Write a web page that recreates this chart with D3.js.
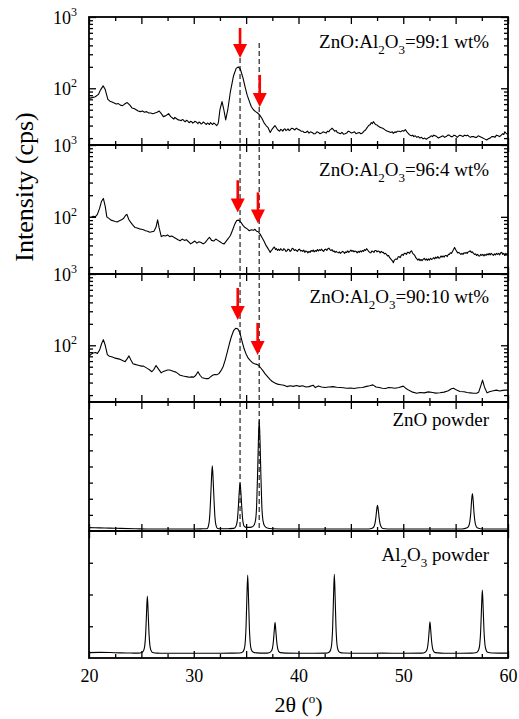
<!DOCTYPE html>
<html>
<head>
<meta charset="utf-8">
<script src="https://cdn.jsdelivr.net/npm/d3@7"></script>
<style>
    body { margin: 0; background: #fff; }
    svg text { font-family: "Liberation Serif", "Times New Roman", serif; fill: #000; }
    .frame { fill: none; stroke: #000; stroke-width: 1.8; }
    .trace { fill: none; stroke: #000; stroke-width: 1.1; stroke-linejoin: round; }
    .tick line { stroke: #000; stroke-width: 1.3; }
    .guide { stroke: #333; stroke-width: 1.3; stroke-dasharray: 5,3; }
    .arrow { fill: #ff0000; stroke: none; }
    .shaft { stroke: #ff0000; stroke-width: 2.6; }
</style>
</head>
<body>
<div id="chart"></div>
<script>
// ---- data: [2theta (deg), intensity] ----
const film99 = [
    [20.0,72],[20.3,74],[20.6,76],[20.9,82],[21.1,95],[21.35,108],[21.55,96],[21.8,70],[22.0,66],[22.2,64],
    [22.4,62],[22.6,60],[22.8,61],[23.0,58],[23.2,57],[23.4,60],[23.65,63],[23.9,58],[24.1,53],[24.3,52],
    [24.5,50],[24.7,48],[24.9,47],[25.1,48],[25.3,46],[25.5,47],[25.7,45],[25.9,45],[26.1,44],[26.3,45],
    [26.5,46],[26.7,48],[26.9,44],[27.1,40],[27.3,41],[27.6,44],[27.8,40],
    [28.0,38],[28.1,37],[28.2,39],[28.3,38],[28.4,37],[28.5,36],[28.6,36],[28.7,35.5],[28.8,35],[28.9,36.5],
    [29.0,36],[29.1,34.5],[29.2,34],[29.3,35.5],[29.4,35],[29.5,33.5],[29.6,33],[29.7,34.5],[29.8,34],[29.9,32.5],
    [30.0,33],[30.1,34.5],[30.2,34],[30.3,33],[30.4,32],[30.5,33.5],[30.6,33],[30.7,31.5],[30.8,32],[30.9,33.5],
    [31.0,33],[31.1,32],[31.2,31],[31.3,32.5],[31.4,32],[31.5,31],[31.6,33],[31.7,32],[31.8,31],[31.9,32.5],
    [32.0,32],[32.1,31],[32.2,30],[32.3,31.5],[32.35,33],
    [32.5,50],[32.7,65],[32.85,52],[33.05,36],[33.25,50],[33.5,90],[33.8,150],[34.05,190],[34.25,200],[34.45,185],
    [34.7,140],[34.9,105],[35.1,80],[35.3,66],[35.5,55],[35.7,50],[35.9,47],[36.1,45],[36.3,42],[36.5,38],
    [36.7,33],[36.9,30],[37.1,28],[37.3,24],[37.5,27],[37.75,30],
    [37.95,27],[38.1,25.5],[38.2,25],[38.3,26.5],[38.4,26],[38.5,25],[38.6,26.5],[38.7,27],[38.8,25.5],[38.9,26],
    [39.0,27],[39.1,25.5],[39.2,26],[39.35,27.5],[39.5,27],[39.65,26],[39.8,27.5],[39.95,26.5],[40.1,26],[40.25,25],
    [40.4,25],[40.55,24],[40.7,24],[40.85,25],[41.0,23.5],[41.15,24.5],[41.3,24],[41.45,23],[41.6,23],[41.75,24.5],
    [41.9,24],[42.05,23],[42.2,23.5],[42.35,24.5],[42.5,24],[42.65,23.5],[42.75,25],[42.9,24.5],[43.0,26],[43.1,26.5],
    [43.2,27.5],[43.35,26],[43.45,25],[43.6,25.5],[43.7,24],[43.85,23.5],[44.0,23],[44.15,24],[44.3,22.7],[44.45,23],
    [44.6,23.5],[44.75,25],[44.9,24.5],[45.05,23.5],[45.2,24],[45.35,24.5],[45.5,23],[45.65,23.5],[45.8,24],[45.95,23],
    [46.1,23.5],[46.25,25],[46.4,26],[46.55,28],[46.7,30],[46.85,31],[46.95,33],[47.05,32],[47.15,34],[47.25,32.5],
    [47.35,31],[47.5,30.5],[47.6,29.5],[47.75,28.5],[47.9,28],[48.05,27.5],[48.2,26.5],[48.35,25.5],[48.5,25],[48.65,24.5],
    [48.8,24],[48.95,24.5],[49.05,23.3],[49.2,24.5],[49.3,24],[49.45,25],[49.6,25],[49.75,24.5],[49.9,25.5],[50.05,25],
    [50.2,26.3],[50.35,24.5],[50.5,23],[50.65,22],[50.8,21.5],[50.9,22],[51.0,21],[51.15,21.5],[51.3,20.5],[51.45,21],
    [51.6,20],[51.75,20.5],[51.9,19.5],[52.05,20],[52.2,19.3],[52.35,20],[52.5,20.5],[52.65,21.5],[52.8,21],[52.9,22],
    [53.05,21.5],[53.2,21],[53.35,20],[53.5,20.5],[53.65,21],[53.8,21.5],[53.95,20.5],[54.1,21],[54.25,22],[54.4,22],
    [54.55,21],[54.7,21],[54.85,22],[55.0,21.5],[55.15,20.5],[55.3,21.5],[55.4,22],[55.55,21.5],[55.7,21],[55.85,22],
    [56.0,21.5],[56.15,22],[56.3,21],[56.4,20.5],[56.55,21],[56.7,21],[56.85,20.5],[57.0,20.5],[57.15,21.5],[57.3,21],
    [57.45,20.5],[57.6,20],[57.75,19.5],[57.97,18.8],[58.1,19.5],[58.3,20],[58.45,21],[58.6,21],[58.75,20.5],[58.9,22],
    [59.05,21.5],[59.2,21],[59.35,22],[59.5,23],[59.6,22.5],[59.7,24.5],[59.85,23],[60.0,23]
];

const film96 = [
    [20.0,99],[20.2,98],[20.4,102],[20.6,100],[20.8,108],[21.0,130],[21.2,165],[21.37,180],[21.55,140],[21.7,100],
    [21.9,95],[22.1,90],[22.3,88],[22.5,86],[22.7,85],[22.9,88],[23.1,91],[23.3,95],[23.5,105],[23.62,108],
    [23.8,92],[23.95,85],[24.15,78],[24.4,71],[24.6,70],[24.8,68],[25.0,67],[25.2,66],[25.4,64],[25.6,63],
    [25.8,61],[26.0,62],[26.2,63],[26.4,72],[26.55,91],[26.7,70],[26.9,53],[27.1,55],[27.3,54],[27.5,56],
    [27.7,53],[27.9,54],[28.1,52],[28.3,50],[28.5,48],[28.7,46.5],[28.9,49],[29.1,47],[29.3,48],[29.5,45],
    [29.7,42],[29.9,44],[30.1,46],[30.3,43],[30.5,45],[30.7,44],[30.9,42],[31.1,44],[31.3,48],[31.5,52],
    [31.7,47],[31.9,46],[32.1,49],[32.3,47],[32.5,45],[32.7,43],[32.9,42],[33.1,46],[33.3,50],[33.5,55],
    [33.7,65],[33.9,78],[34.1,89],[34.3,90],[34.5,84],[34.7,76],[34.9,71],[35.1,68],[35.3,64],[35.5,66],
    [35.7,65],[35.85,67],[36.0,63],[36.16,62],[36.35,57],[36.5,52],[36.7,46],
    [36.9,40],[37.05,37],[37.2,34],[37.3,32],[37.4,34],[37.5,35],[37.6,37],[37.7,38],[37.8,35],[37.9,36],
    [38.0,34],[38.1,35.5],[38.2,34],[38.3,36],[38.4,34.5],[38.5,34],[38.6,36],[38.7,35],[38.8,33],[38.9,33.6],
    [39.0,35.5],[39.1,35],[39.2,33],[39.3,34],[39.4,36.5],[39.5,36],[39.6,34],[39.7,35],[39.8,34],[39.9,33],
    [40.0,35],[40.1,35.5],[40.2,33.5],[40.3,34],[40.4,33],[40.5,34.5],[40.6,32],[40.7,33.5],[40.8,33],[40.9,31.5],
    [41.0,33],[41.1,32],[41.2,34],[41.3,33],[41.4,34.5],[41.5,32.5],[41.6,34],[41.7,33],[41.8,35],[41.9,33.5],
    [42.0,35],[42.1,34],[42.2,35.5],[42.3,34],[42.4,33],[42.5,35],[42.6,35.5],[42.7,34],[42.8,36],[42.9,36.6],
    [43.0,35],[43.1,34],[43.2,35],[43.3,33],[43.4,33.5],[43.5,32],[43.6,33],[43.7,32],[43.8,31.5],[43.9,32.5],
    [44.0,31],[44.1,32],[44.2,33],[44.3,32.5],[44.4,31],[44.5,32.5],[44.6,32],[44.7,33.5],[44.8,32],[44.9,33],
    [45.0,34.5],[45.1,33],[45.2,34],[45.3,32.5],[45.4,33.5],[45.5,33],[45.6,31.5],[45.7,33],[45.8,32],[45.9,33.5],
    [46.0,32.5],[46.1,34],[46.2,33],[46.3,35],[46.4,34],[46.5,36],[46.6,34.5],[46.7,33],[46.8,32],[46.9,31.5],
    [47.0,33.5],[47.1,33],[47.2,32],[47.3,34],[47.4,34],[47.5,32.5],[47.6,33.5],[47.7,33],[47.8,31.5],[47.9,33],
    [48.0,32],[48.1,32],[48.2,30.5],[48.3,31],[48.4,30],[48.5,28.5],[48.6,29],[48.7,27],[48.8,26],[48.9,25],
    [49.0,24],[49.05,23],[49.15,25],[49.3,26],[49.4,25.5],[49.5,27.5],[49.6,28],[49.7,27],[49.8,29],[49.9,30],
    [50.0,29],[50.1,31],[50.2,31],[50.3,30],[50.4,32],[50.5,32],[50.6,31],[50.7,33],[50.8,33.6],[50.9,31],
    [51.0,30],[51.1,29],[51.2,27],[51.3,26],[51.4,25],[51.5,26],[51.6,24.5],[51.7,25.5],[51.8,24.5],[51.9,25.5],
    [52.0,26.5],[52.1,25],[52.2,26],[52.3,24.8],[52.4,26],[52.5,25],[52.6,26.5],[52.7,25.5],[52.8,26],[52.9,27],
    [53.0,26],[53.1,27.5],[53.2,26.5],[53.3,28],[53.4,26.5],[53.5,27],[53.6,28.5],[53.7,27.5],[53.8,28.5],[53.9,27.5],
    [54.0,29],[54.1,29],[54.2,28],[54.3,30],[54.4,30],[54.5,31.5],[54.6,31],[54.7,33],[54.8,35],[54.9,37.5],
    [55.0,35],[55.1,33],[55.2,31.5],[55.3,32],[55.4,31],[55.5,30],[55.6,31],[55.7,30],[55.8,31.5],[55.9,31],
    [56.0,32],[56.1,31],[56.2,32.5],[56.3,33],[56.4,33.6],[56.5,32],[56.6,32.5],[56.7,31],[56.8,30],[56.9,30.5],
    [57.0,29],[57.1,30],[57.2,28.5],[57.3,28.5],[57.4,30],[57.5,29],[57.6,30],[57.7,28.5],[57.8,30],[57.9,29],
    [58.0,30.5],[58.1,29.5],[58.2,31],[58.3,29.5],[58.4,31],[58.5,30],[58.6,29],[58.7,30.5],[58.8,29.5],[58.9,31],
    [59.0,30],[59.1,31],[59.2,29.5],[59.3,31.5],[59.4,32],[59.5,30],[59.6,31],[59.7,29],[59.8,31],[59.9,30],[60.0,30]
];

const film90 = [
    [20.0,70],[20.2,75],[20.4,78],[20.6,79],[20.8,77],[21.0,85],[21.2,105],[21.37,120],[21.55,100],[21.75,74],
    [21.95,70],[22.15,69],[22.3,68],[22.5,66],[22.7,65],[22.9,64],[23.1,62],[23.3,60],[23.45,59],[23.65,65],
    [23.82,71],[24.0,62],[24.2,55],[24.4,54],[24.6,53],[24.8,52],[25.0,51],[25.2,51],[25.4,49],[25.6,47],
    [25.8,45],[26.0,42.5],[26.2,46],[26.4,52],[26.6,47],[26.9,41],[27.1,43],[27.3,44],[27.5,45],[27.7,45],
    [27.9,44],[28.1,43],[28.3,42],[28.5,40],[28.7,38],[28.99,37],[29.2,36.5],[29.4,36],[29.6,35.5],[29.8,36],
    [30.0,35.7],[30.2,38],[30.4,42.5],[30.6,38],[30.8,35],[31.0,34.5],[31.2,34],[31.4,34],[31.6,36],[31.8,38],
    [32.0,39],[32.2,38.5],[32.4,40],[32.6,44],[32.8,50],[33.0,62],[33.2,80],[33.4,105],[33.6,133],[33.8,160],
    [34.0,173],[34.2,170],[34.4,150],[34.6,115],[34.8,90],[35.0,75],[35.2,66],[35.4,61],[35.6,57],[35.8,55],
    [36.0,54],[36.2,52],[36.4,48],[36.6,44],[36.8,40],[37.0,37],[37.3,33],[37.5,31],[37.75,29.5],[38.0,28.5],
    [38.3,28],[38.6,27.5],[38.9,26.3],[39.2,27],[39.5,26.5],[39.8,27.2],[40.1,26.5],[40.4,27],[40.7,26],[41.0,26.3],
    [41.4,27.5],[41.6,25.5],[41.9,26.8],[42.2,26],[42.5,25.5],[42.9,26],[43.3,26.3],[43.65,25.8],[44.0,25.5],[44.3,25.3],
    [44.6,25],[45.0,25.2],[45.3,24.8],[45.7,25.4],[46.1,25.6],[46.5,26.5],[46.8,27],[47.1,27.8],[47.4,26],[47.7,25.5],
    [48.0,25],[48.3,24.7],[48.6,25.5],[48.9,25.3],[49.2,25],[49.6,25.6],[50.0,26.7],[50.2,25.2],[50.5,23.5],[50.9,22],
    [51.3,21.2],[51.6,21.8],[52.0,21.5],[52.4,22.2],[52.8,21.8],[53.1,21.3],[53.5,21.6],[53.9,22],[54.3,23],[54.6,24.5],
    [54.8,25],[55.1,23.5],[55.4,22.5],[55.8,22.3],[56.1,21.8],[56.4,21.5],[56.7,21.2],[57.0,21.2],[57.2,22],[57.4,27],
    [57.57,32.5],[57.75,26],[58.0,21.5],[58.3,22.5],[58.6,23],[58.9,23.5],[59.2,22.8],[59.5,23.3],[59.8,23.5],[60.0,23.5]
];

// powder patterns, arbitrary units (0-100 of panel height)
const znoPowder = [
    [20.0,2.6],[21.0,2.4],[22.0,2.2],[23.0,2.0],[24.5,1.7],[26.0,1.5],[28.0,1.5],[30.0,1.5],[30.9,1.7],
    [31.27,1.8],[31.42,4.5],[31.52,11],[31.61,25],[31.69,40],[31.77,50.5],[31.85,40],[31.93,25],[32.02,11],[32.12,4.5],[32.27,2.0],[32.6,1.7],
    [33.3,1.8],[33.8,2.0],
    [33.92,2.5],[34.07,4.5],[34.17,9],[34.26,19],[34.34,30],[34.42,37],[34.5,30],[34.58,19],[34.67,9],[34.77,4.5],[34.92,3.0],[35.2,2.8],[35.5,3.0],
    [35.75,4.5],[35.9,8.5],[36.0,19],[36.09,43],[36.17,69],[36.25,86],[36.33,69],[36.41,43],[36.5,19],[36.6,8.5],[36.75,4],[37.0,2.3],[37.5,1.8],
    [39.0,1.5],[41.0,1.5],[43.0,1.5],[45.0,1.5],[46.7,1.6],
    [47.04,2.2],[47.19,3.2],[47.29,5.5],[47.38,10],[47.46,16],[47.54,20],[47.62,16],[47.7,10],[47.79,5.5],[47.89,3.2],[48.04,2.0],[48.5,1.6],
    [50.0,1.5],[52.0,1.5],[54.0,1.5],[55.6,1.6],
    [56.1,2.5],[56.25,3.8],[56.35,7],[56.44,13.5],[56.52,23],[56.6,29],[56.68,23],[56.76,13.5],[56.85,7],[56.95,3.8],[57.1,2.3],[57.6,1.6],
    [59.0,1.5],[60.0,1.5]
];

const aloPowder = [
    [20.0,4.2],[21.0,4.4],[22.0,4.3],[23.0,4.0],[24.0,3.9],[24.7,3.8],
    [25.07,4.5],[25.22,6],[25.32,9.5],[25.41,19],[25.49,35],[25.57,48.8],[25.65,35],[25.73,19],[25.82,9.5],[25.92,6],[26.07,4.3],[26.5,3.8],
    [28.0,3.7],[30.0,3.7],[32.0,3.7],[33.5,3.8],[34.4,3.9],
    [34.65,4.6],[34.8,6.5],[34.9,11],[34.99,24],[35.07,47],[35.15,65.4],[35.23,47],[35.31,24],[35.4,11],[35.5,6.5],[35.65,4.8],[36.0,4.0],[36.8,3.8],[37.2,4.2],
    [37.41,5.5],[37.51,7.5],[37.6,13],[37.68,21],[37.76,28.1],[37.84,21],[37.92,13],[38.01,7.5],[38.11,5.2],[38.26,4.2],[38.8,3.8],
    [40.0,3.7],[41.5,3.7],[42.6,3.8],
    [42.92,4.6],[43.07,6.5],[43.17,11],[43.26,24],[43.34,47],[43.42,65.9],[43.5,47],[43.58,24],[43.67,11],[43.77,6.5],[43.92,4.6],[44.3,3.9],
    [46.0,3.7],[48.0,3.8],[50.0,3.7],[51.8,3.8],
    [52.05,4.3],[52.2,5.5],[52.3,7.5],[52.39,13],[52.47,21],[52.55,28.6],[52.63,21],[52.71,13],[52.8,7.5],[52.9,5.3],[53.05,4.2],[53.6,3.8],
    [55.0,3.7],[56.5,3.8],[57.0,4.3],
    [57.2,6.5],[57.3,10.5],[57.39,21],[57.47,39],[57.55,53.5],[57.63,39],[57.71,21],[57.8,10.5],[57.9,6.5],[58.05,4.5],[58.5,3.9],[59.2,3.8],[60.0,3.8]
];

const xMajorTicks = [20, 25, 30, 35, 40, 45, 50, 55, 60];
const xMinorTicks = [22.5, 27.5, 32.5, 37.5, 42.5, 47.5, 52.5, 57.5];
const xLabelTicks = [20, 30, 40, 50, 60];
const logMajorTicks = [100, 1000];
const logMinorTicks = [20, 30, 40, 50, 60, 70, 80, 90, 200, 300, 400, 500, 600, 700, 800, 900];

const panelLabels = [
    [["ZnO:Al", 0], ["2", 1], ["O", 0], ["3", 1], ["=99:1 wt%", 0]],
    [["ZnO:Al", 0], ["2", 1], ["O", 0], ["3", 1], ["=96:4 wt%", 0]],
    [["ZnO:Al", 0], ["2", 1], ["O", 0], ["3", 1], ["=90:10 wt%", 0]],
    [["ZnO powder", 0]],
    [["Al", 0], ["2", 1], ["O", 0], ["3", 1], [" powder", 0]]
];

// red arrows: panel, 2theta, tip intensity, tail intensity
const arrowMarks = [
    [0, 34.42, 266, 701], [0, 36.3, 54.7, 154],
    [1, 34.2, 115, 323],  [1, 36.13, 80.5, 219],
    [2, 34.2, 226, 637],  [2, 36.1, 73, 206]
];
// dashed guides at ZnO (002) and (101): 2theta, start intensity in top panel
const guideLines = [[34.42, 266], [36.25, 431]];

// ---- layout ----
const width = 519, height = 719;
const x = d3.scaleLinear().domain([20, 60]).range([89, 508]);

const panels = [
    {top: 17,  bottom: 145, data: film99,    log: true},
    {top: 145, bottom: 274, data: film96,    log: true},
    {top: 274, bottom: 402, data: film90,    log: true},
    {top: 402, bottom: 531, data: znoPowder, log: false, ticks: d3.range(12.5, 100, 12.5)},
    {top: 531, bottom: 658, data: aloPowder, log: false, ticks: d3.range(25, 100, 25)}
];

const svg = d3.select("#chart").append("svg")
    .attr("width", width)
    .attr("height", height);

panels.forEach((p, i) => {
    p.y = p.log
        ? d3.scaleLog().domain([16, 1000]).range([p.bottom, p.top])
        : d3.scaleLinear().domain([0, 100]).range([p.bottom, p.top]);
});

// dashed guides first so they sit behind
let guideStart = panels[0].y, guideEnd = panels[3].y;
svg.selectAll(".guide")
    .data(guideLines)
    .enter().append("line")
    .attr("class", "guide")
    .attr("x1", d => x(d[0]))
    .attr("x2", d => x(d[0]))
    .attr("y1", d => guideStart(d[1]))
    .attr("y2", guideEnd(2));

panels.forEach((p, i) => {
    let g = svg.append("g").attr("class", "panel");

    svg.append("clipPath").attr("id", "clip" + i)
        .append("rect")
        .attr("x", x(20)).attr("y", p.top)
        .attr("width", x(60) - x(20)).attr("height", p.bottom - p.top);

    // noisy film scans as straight segments, powder peaks smoothed
    let line = d3.line()
        .x(d => x(d[0]))
        .y(d => p.y(d[1]))
        .curve(p.log ? d3.curveLinear : d3.curveMonotoneX);

    g.append("path")
        .datum(p.data)
        .attr("class", "trace")
        .attr("clip-path", "url(#clip" + i + ")")
        .attr("d", line);

    // x ticks, inward on top and bottom
    let addX = (axisFn, yPos, vals, size) => {
        g.append("g")
            .attr("transform", "translate(0," + yPos + ")")
            .call(axisFn(x).tickValues(vals).tickSize(-size).tickFormat(""))
            .call(a => a.select(".domain").remove());
    };
    addX(d3.axisBottom, p.bottom, xMajorTicks, 7);
    addX(d3.axisBottom, p.bottom, xMinorTicks, 4);
    addX(d3.axisTop, p.top, xMajorTicks, 7);
    addX(d3.axisTop, p.top, xMinorTicks, 4);

    // y ticks, inward on left and right
    let addY = (axisFn, xPos, vals, size) => {
        g.append("g")
            .attr("transform", "translate(" + xPos + ",0)")
            .call(axisFn(p.y).tickValues(vals).tickSize(-size).tickFormat(""))
            .call(a => a.select(".domain").remove());
    };
    if (p.log) {
        addY(d3.axisLeft, x(20), logMajorTicks, 7);
        addY(d3.axisLeft, x(20), logMinorTicks, 4);
        addY(d3.axisRight, x(60), logMajorTicks, 7);
        addY(d3.axisRight, x(60), logMinorTicks, 4);

        // 10^n labels
        logMajorTicks.forEach(v => {
            let t = g.append("text")
                .attr("x", x(20) - 12)
                .attr("y", p.y(v) + 7)
                .attr("text-anchor", "end")
                .style("font-size", "18px")
                .text("10");
            t.append("tspan")
                .attr("dy", -8)
                .style("font-size", "12px")
                .text(Math.round(Math.log10(v)));
        });
    } else {
        addY(d3.axisLeft, x(20), p.ticks, 4);
        addY(d3.axisRight, x(60), p.ticks, 4);
    }

    g.append("rect")
        .attr("class", "frame")
        .attr("x", x(20)).attr("y", p.top)
        .attr("width", x(60) - x(20)).attr("height", p.bottom - p.top);

    // panel label with subscripts
    let labelY = [48, 176, 303, 426, 561][i];
    let txt = g.append("text")
        .attr("x", 489)
        .attr("y", labelY)
        .attr("text-anchor", "end")
        .style("font-size", "19px");
    let down = false;
    panelLabels[i].forEach(part => {
        let ts = txt.append("tspan").text(part[0]);
        if (part[1] && !down) { ts.attr("dy", 6).style("font-size", "13px"); down = true; }
        else if (part[1]) { ts.style("font-size", "13px"); }
        else if (down) { ts.attr("dy", -6); down = false; }
    });
});

// red arrows
arrowMarks.forEach(a => {
    let p = panels[a[0]];
    let ax = x(a[1]), tip = p.y(a[2]), tail = p.y(a[3]);
    let head = 14;
    svg.append("line")
        .attr("class", "shaft")
        .attr("x1", ax).attr("x2", ax)
        .attr("y1", tail).attr("y2", tip - head + 1);
    svg.append("path")
        .attr("class", "arrow")
        .attr("d", "M" + (ax - 7) + "," + (tip - head) + "L" + (ax + 7) + "," + (tip - head) + "L" + ax + "," + tip + "Z");
});

// bottom tick labels
svg.append("g")
    .attr("transform", "translate(0," + panels[4].bottom + ")")
    .call(d3.axisBottom(x).tickValues(xLabelTicks).tickSize(0).tickPadding(11).tickFormat(d3.format("d")))
    .call(a => a.select(".domain").remove())
    .selectAll("text")
    .style("font-size", "18px");

// axis titles
let xTitle = svg.append("text")
    .attr("x", (x(20) + x(60)) / 2)
    .attr("y", 712)
    .attr("text-anchor", "middle")
    .style("font-size", "22px")
    .text("2θ (");
xTitle.append("tspan").attr("dy", -9).style("font-size", "13px").text("o");
xTitle.append("tspan").attr("dy", 9).text(")");

svg.append("text")
    .attr("transform", "translate(33,187) rotate(-90)")
    .attr("text-anchor", "middle")
    .style("font-size", "26px")
    .text("Intensity (cps)");
</script>
</body>
</html>
